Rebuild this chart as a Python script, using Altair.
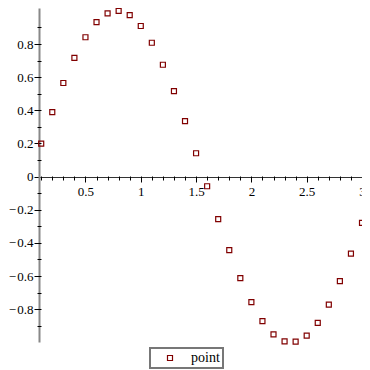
import altair as alt
import pandas as pd

x_vals = [0.1, 0.2, 0.3, 0.4, 0.5, 0.6, 0.7, 0.8, 0.9, 1.0,
          1.1, 1.2, 1.3, 1.4, 1.5, 1.6, 1.7, 1.8, 1.9, 2.0,
          2.1, 2.2, 2.3, 2.4, 2.5, 2.6, 2.7, 2.8, 2.9, 3.0]
y_vals = [0.199, 0.389, 0.565, 0.717, 0.841, 0.932, 0.985, 1.000, 0.974, 0.909,
          0.808, 0.675, 0.516, 0.335, 0.141, -0.058, -0.256, -0.443, -0.612, -0.757,
          -0.872, -0.952, -0.994, -0.996, -0.959, -0.883, -0.773, -0.631, -0.465, -0.279]
series = ["point"] * len(x_vals)

x_major = [0.5, 1.0, 1.5, 2.0, 2.5, 3.0]
x_minor = [0.1, 0.2, 0.3, 0.4, 0.5, 0.6, 0.7, 0.8, 0.9, 1.0,
           1.1, 1.2, 1.3, 1.4, 1.5, 1.6, 1.7, 1.8, 1.9, 2.0,
           2.1, 2.2, 2.3, 2.4, 2.5, 2.6, 2.7, 2.8, 2.9, 3.0]
y_major = [-0.8, -0.6, -0.4, -0.2, 0.0, 0.2, 0.4, 0.6, 0.8]
y_minor = [-0.9, -0.8, -0.7, -0.6, -0.5, -0.4, -0.3, -0.2, -0.1,
           0.1, 0.2, 0.3, 0.4, 0.5, 0.6, 0.7, 0.8, 0.9]

df = pd.DataFrame({"x": x_vals, "y": y_vals, "series": series})

FONT = "Liberation Serif"
xscale = alt.Scale(domain=[0.08, 3.0], nice=False, zero=False)
yscale = alt.Scale(domain=[-0.998, 1.0176], nice=False, zero=False)

main = alt.Chart(df).mark_point(
    shape="square", filled=False, size=25, strokeWidth=1.2, opacity=1
).encode(
    x=alt.X("x:Q", scale=xscale, axis=alt.Axis(
        orient="bottom", values=x_major, offset=-165, domainColor="#333333",
        domainWidth=1, tickSize=5, tickColor="black", ticks=True,
        labelExpr="format(datum.value, '~g')", labelFont=FONT, labelFontSize=13,
        labelColor="black", labelPadding=3, labelOverlap=False, labelFlush=False,
        labelBound=False, grid=False, title=None)),
    y=alt.Y("y:Q", scale=yscale, axis=alt.Axis(
        orient="left", values=y_major, domainColor="#888888", domainWidth=2,
        tickSize=5, tickColor="black",
        labelExpr="datum.value < -0.01 ? '−\u200a' + format(-datum.value, '.1f') : (abs(datum.value) < 0.01 ? '0' : format(datum.value, '.1f'))",
        labelFont=FONT, labelFontSize=13, labelColor="black", labelPadding=1,
        labelOverlap=False, labelFlush=False, labelBound=False, grid=False, title=None)),
    color=alt.Color("series:N", scale=alt.Scale(range=["#800000"]), legend=alt.Legend(
        title=None, orient="none", legendX=111, legendY=340, symbolType="square",
        symbolSize=25, symbolStrokeWidth=1.2, symbolOffset=10, labelOffset=14,
        labelFont=FONT, labelFontSize=14, labelColor="black",
        strokeColor="#777777", padding=3)),
)

minor = alt.Chart(df).mark_point(opacity=0).encode(
    x=alt.X("x:Q", scale=xscale, axis=alt.Axis(
        orient="bottom", values=x_minor, offset=-166, tickSize=4, tickColor="black",
        domain=False, labels=False, grid=False, title=None)),
    y=alt.Y("y:Q", scale=yscale, axis=alt.Axis(
        orient="left", values=y_minor, offset=-2, tickSize=4, tickColor="black",
        domain=False, labels=False, grid=False, title=None)),
)

chart = alt.layer(main, minor).resolve_axis(
    x="independent", y="independent"
).properties(
    width=323, height=334, autosize="none",
    padding={"left": 31, "top": 0, "right": 0, "bottom": 28},
).configure_view(stroke=None).configure_legend(strokeWidth=2).configure_axis(
    labelFont=FONT, labelFontSize=13, labelColor="black"
)

chart.save("out.html", embed_options={"renderer": "svg", "actions": False})
